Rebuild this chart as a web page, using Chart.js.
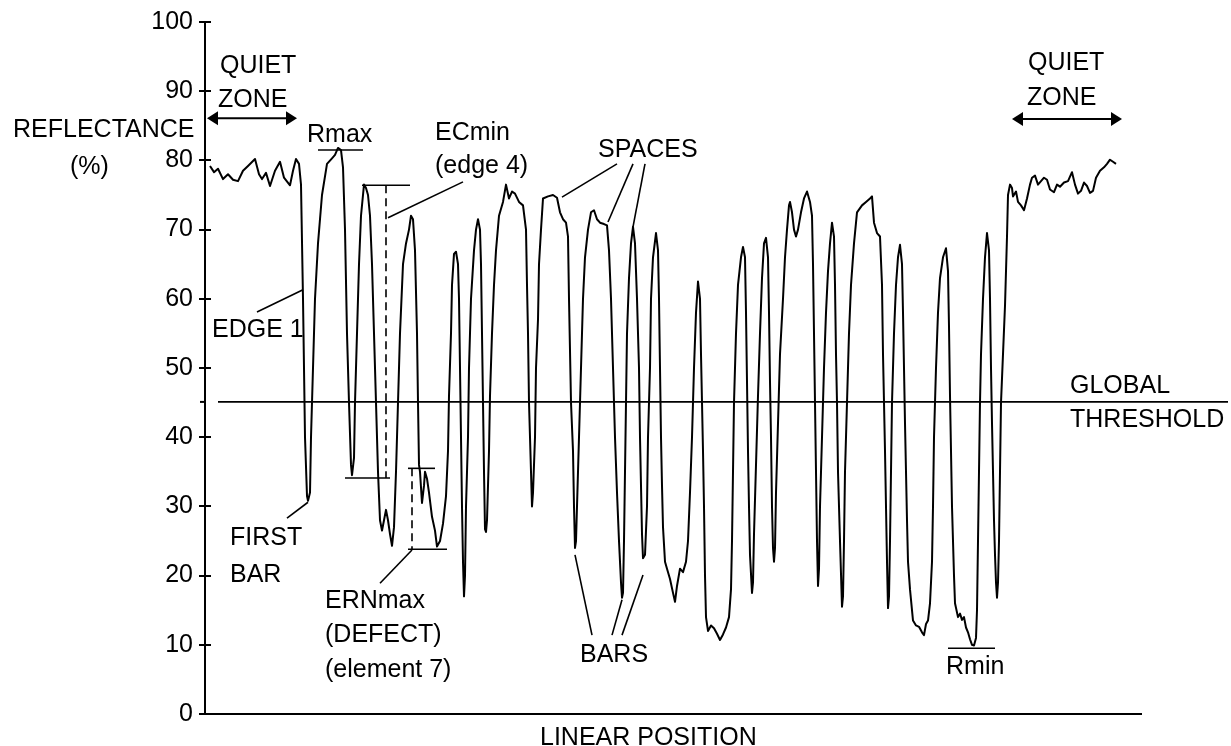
<!DOCTYPE html>
<html>
<head>
<meta charset="utf-8">
<script src="https://cdn.jsdelivr.net/npm/chart.js@4.4.1/dist/chart.umd.min.js"></script>
<style>
html,body{margin:0;padding:0;background:#fff;}
#wrap{width:1231px;height:746px;position:relative;}
</style>
</head>
<body>
<div id="wrap"><canvas id="c"></canvas></div>
<script>
// ---------- DATA ----------
const position = [
5,9,13,18,23,28,33,38,43,50,54,57,61,65,70,75,79,85,88,91,94,96,
98,100,102,103,105,106,108,110,113,117,122,127,130,133,136,138,140,142,144,146,147,
149,150,152,154,156,159,161,163,165,167,169,171,173,175,177,179,181,183,185,187,
189,191,193,195,198,201,204,206,208,210,212,213,214,215,217,219,220,222,224,227,230,232,235,238,241,
243,244,246,247,249,251,253,254,255,256,257,258,259,260,261,263,264,266,269,271,273,275,276,277,278,279,280,281,
282,284,285,287,289,291,294,298,301,304,307,310,314,318,321,322,323,324,326,327,
328,330,331,333,334,336,338,343,348,352,355,358,361,363,364,366,368,369,370,371,
372,374,376,378,380,383,386,389,392,395,399,402,404,406,408,410,412,414,416,417,418,
419,420,421,422,424,426,428,430,432,434,435,436,437,438,440,442,443,445,446,448,451,453,454,455,456,457,458,
460,462,465,468,470,472,475,478,481,483,485,487,489,491,493,495,496,497,498,499,500,501,503,506,509,512,515,518,521,524,
526,527,528,529,531,533,536,538,540,541,542,543,544,545,547,548,549,551,553,555,557,559,561,563,564,565,566,567,568,569,
570,571,573,575,578,580,582,584,585,587,589,591,593,596,599,602,605,607,608,609,610,611,612,613,
614,615,617,619,621,623,625,627,629,630,631,632,633,635,637,638,639,640,642,644,646,649,652,657,661,665,667,669,672,675,
677,678,679,680,681,682,683,684,685,686,687,689,691,693,695,697,698,699,700,701,702,703,705,708,711,714,717,719,721,723,725,
727,728,729,731,733,735,738,741,743,744,745,746,747,748,749,750,753,755,757,759,761,763,765,767,769,771,772,773,774,775,776,
778,780,782,784,785,786,787,788,789,790,791,792,793,794,795,796,798,800,802,803,805,807,
808,811,813,816,819,822,825,827,830,833,836,839,842,845,849,852,855,859,863,867,870,873,876,879,882,885,888,891,895,899,902,905,908,911,914,916
];
const reflectance = [
79.2,78.3,78.8,77.3,78.0,77.2,77.0,78.5,79.2,80.2,78.0,77.3,78.2,76.3,78.5,79.8,77.5,76.4,78.5,80.2,79.5,76.5,
60,40,31.5,30.8,32,40,50,60,68,75,79.5,80.3,80.8,81.8,81.5,79,70,55,45,36,34.5,
37,45,55,65,72,76.5,76.0,75,72,65,55,45,35,28,26.5,28,29.5,28,26,24.3,
27,35,45,55,65,68,70,72,71.5,67,55,45,36,35,30.5,33,35,34,32,28.5,26.5,24.2,25,27.5,31.5,
38,46,55,62,66.5,66.8,65,60,50,40,30,22,17,20,30,40,50,60,67,70,71.5,70,65,55,45,35,26.7,26.3,
28,38,46,55,62,67,72,74,76.5,74.5,75.5,75.2,74,73.5,70,62,55,45,35,30,
32,40,50,57,65,70,74.5,74.8,75,74.6,72.5,71.5,71,69,60,45,38,30,24,25,
30,40,50,60,66,70,72.5,72.8,71.5,71,70.8,70.6,67,60,50,40,32,25,19,16.8,17.5,
25,35,45,55,63,68,70.4,68,60,50,40,33,26,22.5,23,30,40,50,60,66,69.5,67,60,50,40,33,27,
22,21,19.5,17.5,16.2,18.5,21,20.5,22,25,32,40,50,58,62.5,60,52,45,38,30,20,14,12,12.8,12.4,11.6,10.7,11.5,12.5,14,
18,25,35,45,55,62,66,67.5,66,58,48,38,30,23,17.5,19,26,36,46,55,63,68,68.8,66,58,48,40,30,24,22,
24,32,42,52,60,66,70,73.5,74,72.5,70,69,70,72.5,74.5,75.5,74,72,65,55,45,35,25,18.5,
21,30,40,50,58,64,68,71,69,62,52,45,35,25,15.5,17,25,35,45,55,62,68,72.5,73.5,74,74.5,74.8,71,69.5,69,
62,52,45,38,30,22,15.3,17,25,35,45,55,62,66,67.8,65,58,50,42,35,28,22,18,13.5,12.8,12.6,11.8,11.4,13,13.5,16,
22,30,40,50,58,63,66,67.3,64,56,46,38,30,25,20,16,14,14.5,13.6,14,12.5,11.8,10.8,10,9.9,11,15,25,35,45,52,
60,66,69.5,67,60,50,42,35,28,23,19,16.8,19,25,35,45,52,59,69,75,
76.5,76,74.8,75.5,74,73.5,72.8,74.5,76.5,77.5,77.8,76.5,77,77.5,77.2,75.8,75.4,76.5,76.2,76.8,77,78.3,76.5,75.2,75.6,76.8,76.3,75.3,75.6,77.5,78.5,79,79.5,80.1,79.8,79.5
];
const yTickValues = [0,10,20,30,40,50,60,70,80,90,100];
const globalThreshold = 45.1;
const rMax = 81.5, rMin = 9.5;
const ecMinTop = 76.4, ecMinBottom = 34.1;
const ernMaxTop = 35.5, ernMaxBottom = 23.8;

// ---------- ANNOTATION LAYOUT (data units) ----------
const texts = [
  ['QUIET',15,92.6],['ZONE',13,87.7],
  ['REFLECTANCE',-192,83.4],['(%)',-135,78.0],
  ['Rmax',102,82.66],
  ['ECmin',230,82.95],['(edge 4)',230,78.2],
  ['SPACES',393,80.5],
  ['EDGE 1',7,54.5],
  ['FIRST',25,24.4],['BAR',25,19.1],
  ['ERNmax',120,15.3],['(DEFECT)',120,10.4],['(element 7)',120,5.35],
  ['BARS',375,7.5],
  ['Rmin',741,5.8],
  ['QUIET',823,93.1],['ZONE',822,88],
  ['GLOBAL',865,46.4],['THRESHOLD',865,41.5],
  ['LINEAR POSITION',335,-4.5]
];
const segments = [
  [113,rMax,158,rMax,0],
  [157,ecMinTop,205,ecMinTop,0],
  [140,ecMinBottom,185,ecMinBottom,0],
  [181,ecMinTop,181,ecMinBottom,1],
  [258,76.9,183,71.7,0],
  [52,58.1,98,61.3,0],
  [82,28.3,103,30.6,0],
  [203,ernMaxTop,230,ernMaxTop,0],
  [203,ernMaxBottom,242,ernMaxBottom,0],
  [207,ernMaxTop,207,ernMaxBottom,1],
  [175,18.9,207,23.7,0],
  [412,79.5,357,74.7,0],[428,79.5,403,71.1,0],[440,79.5,428,70.4,0],
  [387,11.4,370,23.0,0],[407,11.4,417,16.5,0],[417,11.4,438,20.1,0],
  [743,rMin,790,rMin,0],
  [13,globalThreshold,1023,globalThreshold,0]
];
const arrows = [[2,86.1,92],[807,86.0,917]];

const FONT = '25px "Liberation Sans", Arial, sans-serif';

const annot = {
  id:'annot',
  afterDraw(chart){
    const ctx = chart.ctx, xs = chart.scales.x, ys = chart.scales.y;
    const X = v => xs.getPixelForValue(v), Y = v => ys.getPixelForValue(v);
    ctx.save();
    ctx.strokeStyle = '#000'; ctx.fillStyle = '#000';
    // inner tick marks
    ctx.lineWidth = 2;
    const ax = chart.chartArea.left;
    yTickValues.forEach(v => { ctx.beginPath(); ctx.moveTo(ax, Math.round(Y(v))+0.0); ctx.lineTo(ax+6, Math.round(Y(v))); ctx.stroke(); });
    ctx.beginPath(); ctx.moveTo(ax-5, Y(globalThreshold)); ctx.lineTo(ax, Y(globalThreshold)); ctx.stroke();
    // segments
    ctx.lineWidth = 1.6;
    segments.forEach(s => {
      ctx.setLineDash(s[4] ? [8,5] : []);
      ctx.beginPath(); ctx.moveTo(X(s[0]), Y(s[1])); ctx.lineTo(X(s[2]), Y(s[3])); ctx.stroke();
    });
    ctx.setLineDash([]);
    // arrows
    arrows.forEach(a => {
      const x1 = X(a[0]), x2 = X(a[2]), y = Y(a[1]);
      ctx.lineWidth = 2;
      ctx.beginPath(); ctx.moveTo(x1+8, y); ctx.lineTo(x2-8, y); ctx.stroke();
      ctx.beginPath(); ctx.moveTo(x1, y); ctx.lineTo(x1+11, y-7); ctx.lineTo(x1+11, y+7); ctx.closePath(); ctx.fill();
      ctx.beginPath(); ctx.moveTo(x2, y); ctx.lineTo(x2-11, y-7); ctx.lineTo(x2-11, y+7); ctx.closePath(); ctx.fill();
    });
    // texts
    ctx.font = FONT; ctx.textAlign = 'left'; ctx.textBaseline = 'alphabetic';
    texts.forEach(t => ctx.fillText(t[0], X(t[1]), Y(t[2])));
    ctx.restore();
  }
};

new Chart(document.getElementById('c'), {
  type: 'scatter',
  data: {
    datasets: [{
      data: position.map((p,i) => ({x:p, y:reflectance[i]})),
      showLine: true,
      borderColor: '#000',
      borderWidth: 2,
      borderJoinStyle: 'round',
      pointRadius: 0,
      tension: 0
    }]
  },
  options: {
    responsive: true,
    maintainAspectRatio: false,
    devicePixelRatio: 1,
    animation: false,
    events: [],
    layout: { padding: { top: 22, right: 90, bottom: 0, left: 0 } },
    plugins: { legend: { display: false }, tooltip: { enabled: false } },
    scales: {
      x: {
        type: 'linear', min: 0, max: 936,
        ticks: { display: false },
        grid: { display: false },
        border: { display: true, color: '#000', width: 2 },
        afterFit(s){ s.height = 32; }
      },
      y: {
        min: 0, max: 100,
        afterBuildTicks(s){ s.ticks = yTickValues.map(v => ({value:v})); },
        ticks: { color: '#000', font: { family: '"Liberation Sans", Arial, sans-serif', size: 25 }, padding: 6 },
        grid: { display: true, drawOnChartArea: false, drawTicks: true, tickLength: 6, color: '#000', lineWidth: 2 },
        border: { display: true, color: '#000', width: 2 },
        afterFit(s){ s.width = 205; }
      }
    }
  },
  plugins: [annot]
});
</script>
</body>
</html>
